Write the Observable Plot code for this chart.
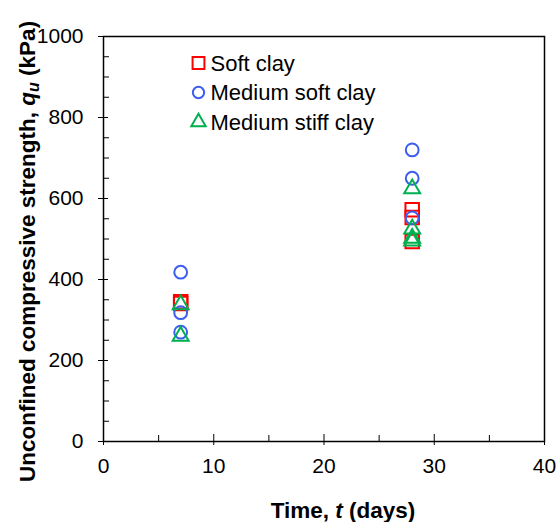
<!DOCTYPE html>
<html>
<head>
<meta charset="utf-8">
<script src="https://cdn.jsdelivr.net/npm/d3@7"></script>
<script src="https://cdn.jsdelivr.net/npm/@observablehq/plot@0.6"></script>
<style>
  body { margin: 0; background: #fff; }
  #chart { width: 556px; height: 522px; }
  #chart svg { display: block; }
</style>
</head>
<body>
<div id="chart"></div>
<script>
// Series definitions
const seriesNames = ["Soft clay", "Medium soft clay", "Medium stiff clay"];
const seriesColors = ["#ff0000", "#3c5ef0", "#00b050"];

// Curing time (days) and unconfined compressive strength qu (kPa)
const softDays = [7, 7, 28, 28, 28];
const softQu = [345, 341, 572, 553, 494];
const medSoftDays = [7, 7, 7, 28, 28, 28];
const medSoftQu = [418, 318, 270, 720, 650, 552];
const medStiffDays = [7, 7, 28, 28, 28, 28];
const medStiffQu = [338, 260, 624, 525, 502, 495];

// Axis ticks
const xTicks = [0, 10, 20, 30, 40];
const xMinorTicks = [5, 15, 25, 35];
const yTicks = [0, 200, 400, 600, 800, 1000];
const yMinorTicks = [50, 100, 150, 250, 300, 350, 450, 500, 550, 650, 700, 750, 850, 900, 950];

const toRows = (days, qu) => days.map((t, i) => ({t, qu: qu[i]}));
const soft = toRows(softDays, softQu);
const medSoft = toRows(medSoftDays, medSoftQu);
const medStiff = toRows(medStiffDays, medStiffQu);

const font = "'Liberation Sans', Arial, sans-serif";
const tickFont = 21;

const plot = Plot.plot({
  width: 556,
  height: 522,
  marginLeft: 103,
  marginRight: 12,
  marginTop: 36,
  marginBottom: 81,
  style: {fontFamily: font, color: "#000", background: "#fff"},
  x: {domain: [0, 40]},
  y: {domain: [0, 1000]},
  marks: [
    // major ticks crossing the axes, minor ticks pointing inward
    Plot.axisX(xTicks, {anchor: "bottom", tickSize: 11, dy: -7, fill: "none", label: null, stroke: "#000"}),
    Plot.axisX(xMinorTicks, {anchor: "bottom", tickSize: 6, dy: -6, fill: "none", label: null, stroke: "#000"}),
    Plot.axisY(yTicks, {anchor: "left", tickSize: 10, dx: 5, fill: "none", label: null, stroke: "#000"}),
    Plot.axisY(yMinorTicks, {anchor: "left", tickSize: 6, dx: 6, fill: "none", label: null, stroke: "#000"}),
    // tick labels
    Plot.axisX(xTicks, {anchor: "bottom", tickSize: 0, tickPadding: 17, stroke: "none", label: null,
      fontSize: tickFont, fill: "#000", tickFormat: d3.format("d")}),
    Plot.axisY(yTicks, {anchor: "left", tickSize: 0, tickPadding: 20, stroke: "none", label: null,
      fontSize: tickFont, fill: "#000", tickFormat: d3.format("d")}),
    Plot.frame({stroke: "#000", strokeWidth: 1.5}),
    // data
    Plot.dot(soft, {x: "t", y: "qu", symbol: "square", r: 7.6, stroke: seriesColors[0], strokeWidth: 2, fill: "none"}),
    Plot.dot(medSoft, {x: "t", y: "qu", symbol: "circle", r: 6.4, stroke: seriesColors[1], strokeWidth: 2, fill: "none"}),
    Plot.dot(medStiff, {x: "t", y: "qu", symbol: "triangle", r: 5.9, stroke: seriesColors[2], strokeWidth: 2, fill: "none"})
  ]
});

document.getElementById("chart").appendChild(plot);

const svg = d3.select(plot);

// x-axis title
const xt = svg.append("text")
  .attr("x", 343).attr("y", 518)
  .attr("text-anchor", "middle")
  .attr("font-family", font).attr("font-weight", "bold").attr("font-size", 22.5)
  .attr("fill", "#000");
xt.append("tspan").text("Time, ");
xt.append("tspan").attr("font-style", "italic").text("t");
xt.append("tspan").text(" (days)");

// y-axis title
const yt = svg.append("text")
  .attr("transform", "translate(35,482) rotate(-90)")
  .attr("text-anchor", "start")
  .attr("font-family", font).attr("font-weight", "bold").attr("font-size", 22.5)
  .attr("fill", "#000");
yt.append("tspan").text("Unconfined compressive strength, ");
yt.append("tspan").attr("font-style", "italic").text("q");
yt.append("tspan").attr("font-style", "italic").attr("font-size", 16).attr("dy", 4).text("u");
yt.append("tspan").attr("dy", -4).text(" (kPa)");

// legend
const legendSymbols = [d3.symbolSquare, d3.symbolCircle, d3.symbolTriangle];
const legendSizes = [140, 100, 90];
const legend = svg.append("g")
  .attr("font-family", font).attr("font-size", 22).attr("text-anchor", "start");
seriesNames.forEach((name, i) => {
  const g = legend.append("g").attr("transform", `translate(198.5,${63 + 29.5 * i})`);
  g.append("path")
    .attr("d", d3.symbol(legendSymbols[i], legendSizes[i])())
    .attr("fill", "none").attr("stroke", seriesColors[i]).attr("stroke-width", 2);
  g.append("text").attr("x", 12).attr("y", 7.5).attr("fill", "#000").text(name);
});
</script>
</body>
</html>
